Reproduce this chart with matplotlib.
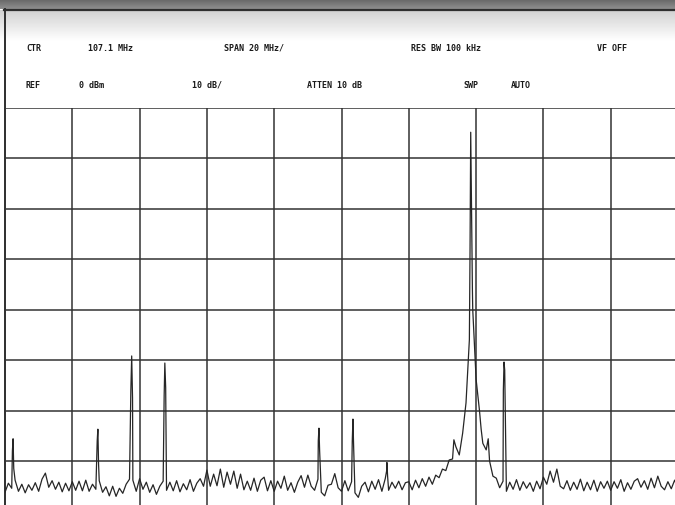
import numpy as np
import matplotlib
matplotlib.use("Agg")
import matplotlib.pyplot as plt

# analyzer settings (header)
ctr_mhz = 107.1
span_per_div = 20.0
ref_dbm = 0
db_per_div = 10

header_row1 = [("CTR", 26), ("107.1 MHz", 88), ("SPAN 20 MHz/", 224),
               ("RES BW 100 kHz", 411), ("VF OFF", 597)]
header_row2 = [("REF", 26), ("0 dBm", 79), ("10 dB/", 192),
               ("ATTEN 10 dB", 307), ("SWP", 463), ("AUTO", 511)]

# noise floor, 1 MHz steps from 7.1 MHz (dBm)
noise_db = [
    -76.2, -74.4, -75.4, -73.8, -76.0, -74.6, -76.3, -74.7, -75.8, -74.3,
    -76.0, -73.6, -72.4, -75.2, -73.9, -75.6, -74.2, -76.1, -74.4, -75.9,
    -74.1, -75.8, -74.0, -75.9, -73.8, -76.0, -74.6, -75.6, -73.9, -76.2,
    -75.1, -76.9, -75.0, -77.0, -75.4, -76.4, -74.6, -73.6, -73.8, -76.0,
    -73.5, -75.6, -74.2, -76.2, -74.7, -76.6, -75.0, -74.0, -75.8, -74.2,
    -75.9, -73.9, -76.1, -74.5, -75.7, -73.7, -76.0, -74.4, -73.5, -75.0,
    -71.8, -75.0, -72.6, -74.9, -71.6, -75.2, -72.2, -74.6, -72.0, -75.4,
    -72.6, -75.7, -74.0, -75.8, -73.4, -76.0, -73.8, -73.2, -75.9, -73.9,
    -76.0, -74.0, -75.4, -73.0, -75.8, -74.3, -76.2, -74.2, -72.9, -75.2,
    -72.8, -75.0, -75.8, -73.6, -76.2, -76.9, -74.8, -74.6, -72.5, -75.3,
    -76.0, -73.9, -75.9, -74.1, -76.3, -77.2, -75.0, -74.2, -76.1, -74.0,
    -75.6, -73.7, -76.0, -73.5, -75.8, -74.2, -75.4, -74.0, -75.7, -74.3,
    -74.1, -75.7, -73.8, -75.3, -73.5, -75.0, -73.2, -74.6, -72.8, -73.3,
    -71.6, -71.9, -69.8, -69.6, -67.2, -68.8, -64.5, -58.5, -46.0, -40.0,
    -53.8, -60.0, -66.5, -67.8, -70.0, -73.0,
    -73.4, -75.3, -74.0, -76.0, -74.2, -75.6, -73.7, -75.8, -74.1, -75.4,
    -74.3, -76.0, -74.0, -75.5,
    -73.2, -74.6, -72.0, -74.2, -71.6, -75.0, -75.5, -73.9, -75.8, -74.2,
    -75.6, -73.6, -75.9, -74.2, -75.7, -73.8, -76.0, -74.1, -75.4, -74.0,
    -75.8, -74.1, -75.4, -73.7, -76.0, -74.3, -75.6, -74.0, -73.5, -75.2,
    -73.9, -75.6, -73.4, -75.3, -73.0, -75.0, -75.7, -74.1, -75.5, -73.8,
    -75.4,
]

# spurs and carrier (MHz, dBm)
spur_mhz = [9.3, 9.5, 9.7,
            34.5, 34.7, 34.9,
            44.5, 44.75, 45.0,
            54.4, 54.6, 54.85,
            100.2, 100.4, 100.6,
            110.3, 110.5, 110.7,
            120.5, 120.6, 120.8,
            140.5,
            145.3, 145.5, 145.8, 146.0,
            148.6, 150.7,
            155.2, 155.4, 155.6, 155.9]
spur_db = [-68.0, -65.6, -71.5,
           -66.0, -63.7, -70.5,
           -56.0, -49.2, -57.5,
           -57.0, -50.6, -55.5,
           -66.0, -63.5, -68.0,
           -66.0, -61.7, -67.0,
           -72.0, -70.3, -73.0,
           -65.8,
           -28.0, -4.9, -24.0, -36.0,
           -63.7, -65.6,
           -56.0, -50.4, -52.0, -66.0]

start_mhz = ctr_mhz - 5 * span_per_div
stop_mhz = ctr_mhz + 5 * span_per_div
noise_mhz = start_mhz + np.arange(len(noise_db))

freq = np.concatenate([noise_mhz, spur_mhz])
level = np.concatenate([noise_db, spur_db])
order = np.argsort(freq)
freq, level = freq[order], level[order]

W, H = 675, 506
fig = plt.figure(figsize=(W / 100, H / 100), dpi=100)

# screen frame and header background
bg = fig.add_axes([0, 0, 1, 1])
bg.set_xlim(0, W)
bg.set_ylim(H, 0)
bg.axis("off")
top = np.linspace(0.40, 0.56, 20).reshape(-1, 1)
bg.imshow(top, cmap="gray", vmin=0, vmax=1, aspect="auto",
          extent=[0, W, 10, 0])
hdr = np.linspace(0.82, 1.0, 40).reshape(-1, 1)
bg.imshow(hdr, cmap="gray", vmin=0, vmax=1, aspect="auto",
          extent=[0, W, 42, 11])
bg.plot([4, W], [10.5, 10.5], color="#2e2e2e", lw=1.6)
bg.plot([4.5, 4.5], [10, H], color="#2e2e2e", lw=1.4)

for txt, x in header_row1:
    bg.text(x, 48, txt, fontsize=6, fontweight="bold", va="center",
            family="DejaVu Sans Mono", color="#1a1a1a")
for txt, x in header_row2:
    bg.text(x, 85, txt, fontsize=6, fontweight="bold", va="center",
            family="DejaVu Sans Mono", color="#1a1a1a")

# graticule: 10 x 8 divisions
ax = fig.add_axes([5 / W, (H - 512.5) / H, 673 / W, 404 / H])
ax.set_xlim(start_mhz, stop_mhz)
ax.set_ylim(ref_dbm - 8 * db_per_div, ref_dbm)
ax.set_xticks(start_mhz + span_per_div * np.arange(11))
ax.set_yticks(ref_dbm - db_per_div * np.arange(9))
ax.grid(True, color="#333333", lw=1.1)
ax.tick_params(length=0, labelbottom=False, labelleft=False)
for s in ax.spines.values():
    s.set_visible(False)
ax.set_facecolor("none")

ax.plot(freq, level, color="#262626", lw=0.9)

fig.savefig("out.png", dpi=100)
